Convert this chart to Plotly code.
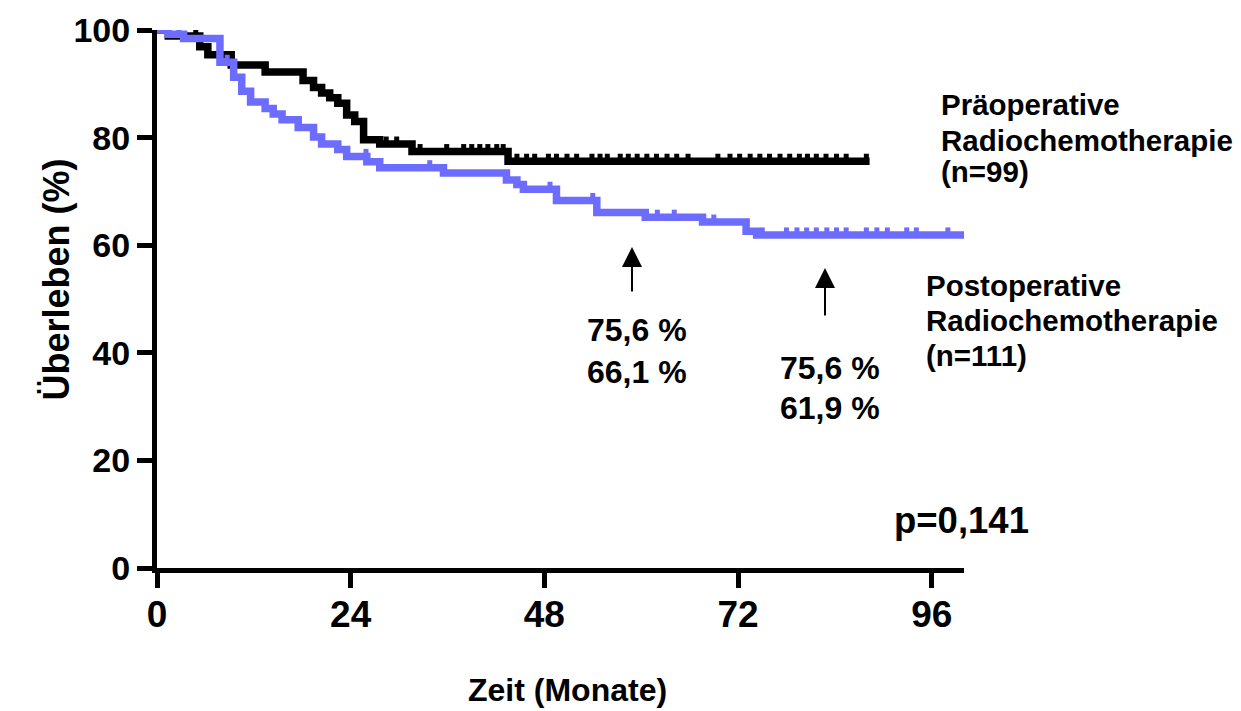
import numpy as np
import plotly.graph_objects as go

# Kaplan-Meier steps (months, survival %)
pre_t = [0, 1.4, 5.3, 6.3, 9.2, 13.4, 18.1, 19.4, 20.4, 21.4, 22.4, 23.5, 24.5, 25.6, 27.6, 31.6, 43.5]
pre_s = [100, 98.9, 96.9, 95.4, 93.5, 92.2, 90.6, 89.3, 88.3, 87.4, 86.4, 84.2, 83.0, 79.6, 78.8, 77.4, 75.6]
pre_end = 88.3
pre_censor = [4.8, 28.4, 29.7, 32.6, 35.9, 38.0, 39.0, 40.0, 41.0, 42.1, 42.9, 44.6, 45.8, 46.8,
              48.5, 49.5, 50.8, 52.0, 53.9, 54.9, 55.8, 57.4, 58.4, 59.5, 60.7, 61.9, 63.2, 64.4,
              65.8, 69.5, 71.0, 72.2, 73.5, 74.7, 75.9, 77.2, 78.4, 79.6, 80.6, 81.7, 82.9, 84.2,
              85.4, 87.9]

post_t = [0, 1.4, 3.3, 7.8, 9.5, 10.5, 11.6, 13.4, 14.4, 15.5, 17.5, 19.4, 20.4, 22.4, 23.5, 26.0,
          27.6, 35.5, 43.3, 44.6, 45.4, 49.5, 54.5, 60.5, 67.6, 73.0, 74.3]
post_s = [100, 99.2, 98.4, 94.0, 91.2, 88.6, 86.6, 85.4, 84.4, 83.3, 81.9, 80.1, 78.8, 77.8, 76.5,
          75.5, 74.4, 73.4, 72.1, 71.3, 70.4, 68.3, 66.1, 65.2, 64.3, 62.6, 61.9]
post_end = 100.0
post_censor = [2.7, 8.7, 25.9, 33.8, 48.7, 54.0, 62.0, 64.1, 69.0, 75.0, 78.0, 79.3, 80.5, 81.7,
               83.0, 84.2, 85.4, 87.9, 89.2, 90.5, 92.9, 94.1, 98.0]

x_ticks = [0, 24, 48, 72, 96]
y_ticks = [0, 20, 40, 60, 80, 100]

BLACK = "#000000"
BLUE = "#6c6cff"
FONT = "Liberation Sans, Arial, sans-serif"

W, H = 1241, 711
L, R, T, B = 157, 277, 30, 143
PW, PH = W - L - R, H - T - B


def px(xp):
    return (xp - L) / PW


def py(yp):
    return (H - B - yp) / PH


def step_at(times, surv, t):
    idx = np.searchsorted(np.asarray(times), np.asarray(t), side="right") - 1
    return np.asarray(surv)[idx]


fig = go.Figure()


def add_group(times, surv, end, censor, color):
    xs = list(times) + [end]
    ys = list(surv) + [surv[-1]]
    fig.add_trace(go.Scatter(x=xs, y=ys, mode="lines", line=dict(color=color, width=7.5, shape="hv"),
                             hoverinfo="skip", showlegend=False))
    cy = step_at(times, surv, censor)
    fig.add_trace(go.Scatter(
        x=censor, y=cy, mode="markers", marker=dict(size=1, color=color),
        error_y=dict(type="constant", value=1.4, valueminus=0, symmetric=False,
                     thickness=5, width=0, color=color),
        hoverinfo="skip", showlegend=False))


add_group(pre_t, pre_s, pre_end, pre_censor, BLACK)
add_group(post_t, post_s, post_end, post_censor, BLUE)

axis_common = dict(showgrid=False, zeroline=False, showline=True, linecolor=BLACK, linewidth=5,
                   ticks="outside", ticklen=15, tickwidth=5, tickcolor=BLACK)

fig.update_xaxes(range=[0, 100], tickvals=x_ticks, ticktext=[str(v) for v in x_ticks],
                 ticklabelstandoff=-5,
                 tickfont=dict(family=FONT, size=37, color=BLACK, weight="bold"), **axis_common)
fig.update_yaxes(range=[0, 100], tickvals=y_ticks, ticktext=[str(v) for v in y_ticks],
                 tickfont=dict(family=FONT, size=34, color=BLACK, weight="bold"), **axis_common)


def label(text, xp, yp, size=29.5, xanchor="left"):
    fig.add_annotation(text=text, x=px(xp), y=py(yp), xref="paper", yref="paper",
                       xanchor=xanchor, yanchor="middle", showarrow=False,
                       font=dict(family=FONT, size=size, color=BLACK, weight="bold"))


# axis titles
fig.add_annotation(text="Überleben (%)", x=px(33), y=py(280), xref="paper", yref="paper",
                   textangle=-90, showarrow=False,
                   font=dict(family=FONT, size=36, color=BLACK, weight="bold"))
label("Zeit (Monate)", 567, 690, size=32, xanchor="center")

# group labels
label("Präoperative", 939, 105)
label("Radiochemotherapie", 939, 140)
label("(n=99)", 939, 172)
label("Postoperative", 924, 285)
label("Radiochemotherapie", 924, 320)
label("(n=111)", 924, 355)

# survival rates at 60 and 84 months
label("75,6 %", 637, 330, size=32, xanchor="center")
label("66,1 %", 637, 372, size=32, xanchor="center")
label("75,6 %", 830, 368, size=32, xanchor="center")
label("61,9 %", 830, 408, size=32, xanchor="center")

label("p=0,141", 892, 520, size=36.5)

for xa, tip, tail in [(632, 247, 293), (825, 268, 317)]:
    fig.add_annotation(x=px(xa), y=py(tip), xref="paper", yref="paper", text="",
                       showarrow=True, ax=0, ay=tail - tip, arrowhead=2, arrowsize=2,
                       arrowwidth=2, arrowcolor=BLACK)

fig.update_layout(width=W, height=H, margin=dict(l=L, r=R, t=T, b=B, autoexpand=False),
                  paper_bgcolor="white", plot_bgcolor="white")

fig.write_html("out.html")
